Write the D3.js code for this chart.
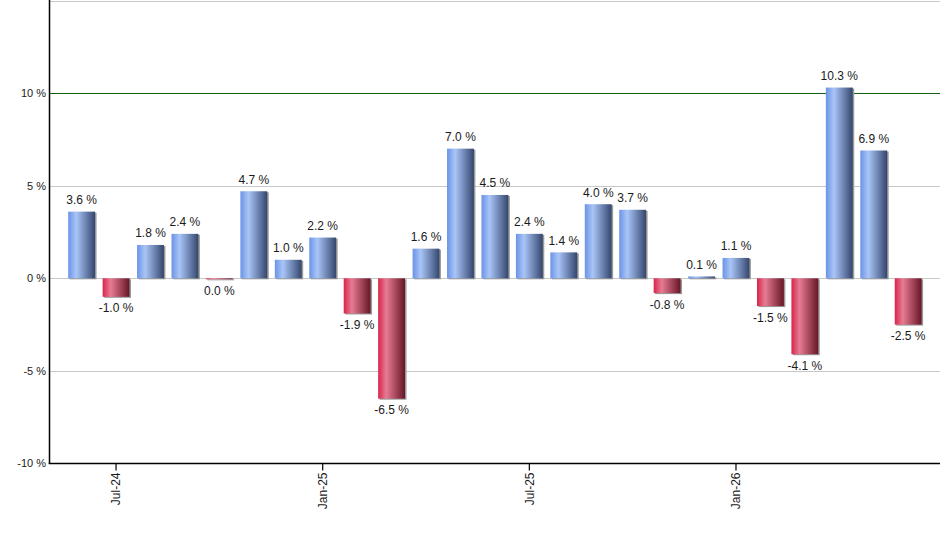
<!DOCTYPE html>
<html lang="en">
<head>
<meta charset="UTF-8">
<title>Monthly returns</title>
<style>
  body { margin: 0; background: #fff; }
  svg text { font-family: "Liberation Sans", Arial, sans-serif; fill: #1a1a1a; }
</style>
<script src="https://d3js.org/d3.v7.min.js"></script>
</head>
<body>
<svg width="940" height="550"></svg>
<script>
// chart data
const months = ["Jun-24","Jul-24","Aug-24","Sep-24","Oct-24","Nov-24","Dec-24",
  "Jan-25","Feb-25","Mar-25","Apr-25","May-25","Jun-25","Jul-25","Aug-25","Sep-25",
  "Oct-25","Nov-25","Dec-25","Jan-26","Feb-26","Mar-26","Apr-26","May-26","Jun-26"];
const returns = [3.6, -1.0, 1.8, 2.4, -0.04, 4.7, 1.0, 2.2, -1.9, -6.5, 1.6, 7.0,
  4.5, 2.4, 1.4, 4.0, 3.7, -0.8, 0.1, 1.1, -1.5, -4.1, 10.3, 6.9, -2.5];
const xTickLabels = ["Jul-24", "Jan-25", "Jul-25", "Jan-26"];
const yTicks = [-10, -5, 0, 5, 10, 15];

const svg = d3.select("svg");

const x = d3.scaleBand()
  .domain(months)
  .range([64.4, 925.4])
  .paddingInner(0.22)
  .paddingOuter(0.11);

const y = d3.scaleLinear()
  .domain([-10, 15])
  .range([463.5, 0.5]);

const left = 49.5, right = 940;

// gradients
const defs = svg.append("defs");
function grad(id, stops) {
  const g = defs.append("linearGradient").attr("id", id)
    .attr("x1", "0%").attr("x2", "100%").attr("y1", "0%").attr("y2", "0%");
  stops.forEach(s => g.append("stop").attr("offset", s[0]).attr("stop-color", s[1]));
}
grad("gPos", [["0%", "#6b93e6"], ["30%", "#a9c5f7"], ["65%", "#6f86b4"], ["100%", "#33466c"]]);
grad("gNeg", [["0%", "#d9244b"], ["30%", "#e67c93"], ["65%", "#a8485d"], ["100%", "#661627"]]);

// grid lines
svg.append("g")
  .selectAll("line")
  .data(yTicks.filter(d => d !== 10 && d !== -10))
  .join("line")
  .attr("x1", left).attr("x2", right)
  .attr("y1", d => Math.round(y(d)) + 0.5)
  .attr("y2", d => Math.round(y(d)) + 0.5)
  .attr("stroke", "#c8c8c8");

svg.append("line")
  .attr("x1", left).attr("x2", right)
  .attr("y1", Math.round(y(10)) + 0.5).attr("y2", Math.round(y(10)) + 0.5)
  .attr("stroke", "#0f5f0f");

// bars
const bars = svg.append("g")
  .selectAll("g")
  .data(returns)
  .join("g");

bars.append("rect")
  .attr("x", (d, i) => x(months[i]) + 1.5)
  .attr("y", d => Math.min(y(d), y(0)) + 1)
  .attr("width", x.bandwidth())
  .attr("height", d => Math.max(1, Math.abs(y(d) - y(0))))
  .attr("fill", "#9a9a9a");

bars.append("rect")
  .attr("x", (d, i) => x(months[i]))
  .attr("y", d => Math.min(y(d), y(0)))
  .attr("width", x.bandwidth())
  .attr("height", d => Math.max(1, Math.abs(y(d) - y(0))))
  .attr("fill", d => d >= 0 ? "url(#gPos)" : "url(#gNeg)");

const fmt = v => (Math.round(v * 10) / 10).toFixed(1) + " %";

bars.append("text")
  .attr("x", (d, i) => x(months[i]) + x.bandwidth() / 2)
  .attr("y", d => d >= 0 ? y(d) - 7.5 : Math.max(y(d), y(0) + 1) + 15.5)
  .attr("text-anchor", "middle")
  .attr("font-size", 12)
  .text(d => fmt(d));

// y axis
const yAxis = svg.append("g");
yAxis.append("line")
  .attr("x1", left).attr("x2", left).attr("y1", 0).attr("y2", 464)
  .attr("stroke", "#000").attr("stroke-width", 1.5);
yAxis.selectAll("text")
  .data(yTicks.filter(d => d !== 15))
  .join("text")
  .attr("x", 46)
  .attr("y", d => y(d))
  .attr("dy", "0.35em")
  .attr("text-anchor", "end")
  .attr("font-size", 11)
  .text(d => d + " %");

// x axis
const xAxis = svg.append("g").attr("transform", "translate(0,463.5)");
xAxis.append("line")
  .attr("x1", left - 0.75).attr("x2", right)
  .attr("stroke", "#000").attr("stroke-width", 1.5);
const tick = xAxis.selectAll("g.tick")
  .data(xTickLabels)
  .join("g")
  .attr("class", "tick")
  .attr("transform", d => `translate(${x(d) + x.bandwidth() / 2},0)`);
tick.append("line").attr("y2", 7).attr("stroke", "#000").attr("stroke-width", 1.2);
tick.append("text")
  .attr("transform", "translate(0,9) rotate(-90)")
  .attr("dy", "0.35em")
  .attr("text-anchor", "end")
  .attr("font-size", 12)
  .text(d => d);
</script>
</body>
</html>
